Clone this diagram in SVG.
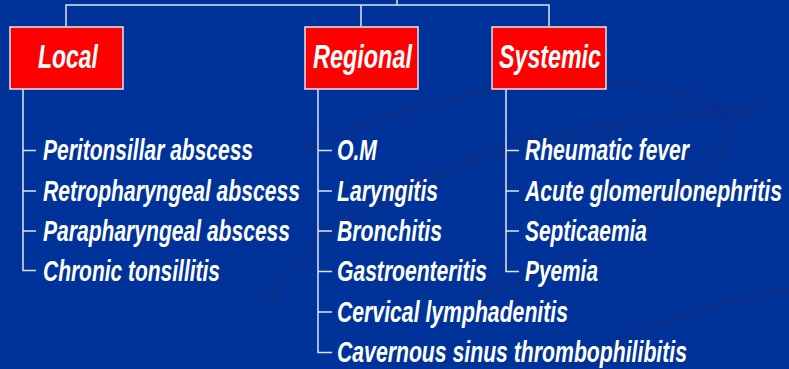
<svg xmlns="http://www.w3.org/2000/svg" width="789" height="369" viewBox="0 0 789 369">
<style>
.bg{fill:#003399}
.box{fill:#ff0000;stroke:#e6e6f0;stroke-width:1.5}
.ln{fill:none;stroke:#dfe3ef;stroke-width:1.5}
.hd{font-family:"Liberation Sans",Arial,sans-serif;font-weight:bold;font-style:italic;font-size:34px;fill:#ffffff}
.it{font-family:"Liberation Sans",Arial,sans-serif;font-weight:bold;font-style:italic;font-size:30px;fill:#ffffff}
.sw{fill:none;stroke:#0a2f8c;stroke-opacity:0.45}
</style>
<rect class="bg" x="0" y="0" width="789" height="369"/>
<g id="swoosh">
<path class="sw" stroke-width="14" d="M270 300 C 320 200, 520 120, 760 110"/>
<path class="sw" stroke-width="10" d="M300 150 C 420 100, 560 60, 690 95 C 800 130, 650 230, 470 300"/>
<path class="sw" stroke-width="8" d="M560 369 C 640 330, 720 300, 789 290"/>
</g>
<g id="connectors">
<path class="ln" d="M397 0 V5 M66 26 V5 H549 V26 M361 5 V26"/>
<path class="ln" d="M23 89 V270.5 H36 M23 150.5 H36 M23 191 H36 M23 231 H36"/>
<path class="ln" d="M318 89 V352.5 H332 M318 150.5 H332 M318 191 H332 M318 231 H332 M318 271.5 H332 M318 312 H332"/>
<path class="ln" d="M506 89 V271.5 H519 M506 150.5 H519 M506 191 H519 M506 231 H519"/>
</g>
<g id="local">
<rect class="box" x="10" y="27" width="113" height="62"/>
<text class="hd" transform="translate(38 67.5) scale(0.68 1)" textLength="88.2" lengthAdjust="spacingAndGlyphs">Local</text>
</g>
<g id="regional">
<rect class="box" x="305" y="27" width="113" height="62"/>
<text class="hd" transform="translate(313 67.5) scale(0.68 1)" textLength="145.6" lengthAdjust="spacingAndGlyphs">Regional</text>
</g>
<g id="systemic">
<rect class="box" x="492" y="27" width="114" height="62"/>
<text class="hd" transform="translate(499 67.5) scale(0.68 1)" textLength="150" lengthAdjust="spacingAndGlyphs">Systemic</text>
</g>
<g id="local-items">
<text class="it" transform="translate(43 160) scale(0.7 1)" textLength="300" lengthAdjust="spacingAndGlyphs">Peritonsillar abscess</text>
<text class="it" transform="translate(43 200.5) scale(0.7 1)" textLength="367.1" lengthAdjust="spacingAndGlyphs">Retropharyngeal abscess</text>
<text class="it" transform="translate(43 240.5) scale(0.7 1)" textLength="352.9" lengthAdjust="spacingAndGlyphs">Parapharyngeal abscess</text>
<text class="it" transform="translate(43 280.5) scale(0.7 1)" textLength="252.9" lengthAdjust="spacingAndGlyphs">Chronic tonsillitis</text>
</g>
<g id="regional-items">
<text class="it" transform="translate(337 160) scale(0.7 1)" textLength="57.1" lengthAdjust="spacingAndGlyphs">O.M</text>
<text class="it" transform="translate(337 200.5) scale(0.7 1)" textLength="144.3" lengthAdjust="spacingAndGlyphs">Laryngitis</text>
<text class="it" transform="translate(337 240.5) scale(0.7 1)" textLength="150" lengthAdjust="spacingAndGlyphs">Bronchitis</text>
<text class="it" transform="translate(337 281) scale(0.7 1)" textLength="214.3" lengthAdjust="spacingAndGlyphs">Gastroenteritis</text>
<text class="it" transform="translate(337 321.5) scale(0.7 1)" textLength="330" lengthAdjust="spacingAndGlyphs">Cervical lymphadenitis</text>
<text class="it" transform="translate(337 362) scale(0.7 1)" textLength="500" lengthAdjust="spacingAndGlyphs">Cavernous sinus thrombophilibitis</text>
</g>
<g id="systemic-items">
<text class="it" transform="translate(525 160) scale(0.7 1)" textLength="234.3" lengthAdjust="spacingAndGlyphs">Rheumatic fever</text>
<text class="it" transform="translate(525 200.5) scale(0.7 1)" textLength="367.1" lengthAdjust="spacingAndGlyphs">Acute glomerulonephritis</text>
<text class="it" transform="translate(525 240.5) scale(0.7 1)" textLength="174.3" lengthAdjust="spacingAndGlyphs">Septicaemia</text>
<text class="it" transform="translate(525 281) scale(0.7 1)" textLength="104.3" lengthAdjust="spacingAndGlyphs">Pyemia</text>
</g>
</svg>
